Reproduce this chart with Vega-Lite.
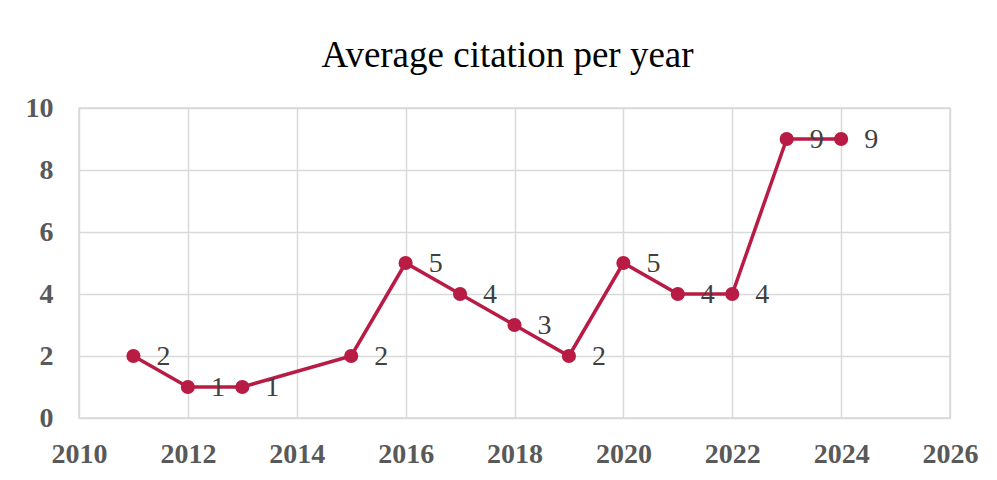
{
  "$schema": "https://vega.github.io/schema/vega-lite/v6.json",
  "autosize": "none",
  "width": 871,
  "height": 310,
  "padding": {"left": 79, "top": 108, "right": 47, "bottom": 62},
  "background": "white",
  "title": {
    "text": "Average citation per year",
    "font": "Liberation Serif",
    "fontSize": 37,
    "fontWeight": "normal",
    "color": "#000000",
    "anchor": "middle",
    "offset": 19,
    "dx": -7
  },
  "data": {
    "values": [
      {"year": 2011, "value": 2},
      {"year": 2012, "value": 1},
      {"year": 2013, "value": 1},
      {"year": 2015, "value": 2},
      {"year": 2016, "value": 5},
      {"year": 2017, "value": 4},
      {"year": 2018, "value": 3},
      {"year": 2019, "value": 2},
      {"year": 2020, "value": 5},
      {"year": 2021, "value": 4},
      {"year": 2022, "value": 4},
      {"year": 2023, "value": 9},
      {"year": 2024, "value": 9}
    ]
  },
  "encoding": {
    "x": {
      "field": "year",
      "type": "quantitative",
      "scale": {"domain": [2010, 2026], "nice": false, "zero": false},
      "axis": {
        "title": null,
        "values": [2010, 2012, 2014, 2016, 2018, 2020, 2022, 2024, 2026],
        "format": "d",
        "grid": true,
        "gridColor": "#d9d9d9",
        "gridWidth": 1.5,
        "domain": false,
        "ticks": false,
        "labelFont": "Liberation Serif",
        "labelFontSize": 28,
        "labelFontWeight": "bold",
        "labelColor": "#595959",
        "labelPadding": 22,
        "labelFlush": false
      }
    },
    "y": {
      "field": "value",
      "type": "quantitative",
      "scale": {"domain": [0, 10], "nice": false},
      "axis": {
        "title": null,
        "values": [0, 2, 4, 6, 8, 10],
        "grid": true,
        "gridColor": "#d9d9d9",
        "gridWidth": 1.5,
        "domain": false,
        "ticks": false,
        "labelFont": "Liberation Serif",
        "labelFontSize": 28,
        "labelFontWeight": "bold",
        "labelColor": "#595959",
        "labelPadding": 26
      }
    }
  },
  "layer": [
    {
      "mark": {"type": "line", "color": "#B81C44", "strokeWidth": 3.5}
    },
    {
      "mark": {"type": "point", "filled": true, "color": "#B81C44", "size": 200, "opacity": 1}
    },
    {
      "mark": {
        "type": "text",
        "align": "left",
        "baseline": "middle",
        "dx": 23,
        "dy": 1,
        "font": "Liberation Serif",
        "fontSize": 28,
        "color": "#404040"
      },
      "encoding": {"text": {"field": "value", "type": "quantitative"}}
    }
  ],
  "config": {
    "view": {"stroke": "#d9d9d9", "strokeWidth": 1.5}
  }
}
